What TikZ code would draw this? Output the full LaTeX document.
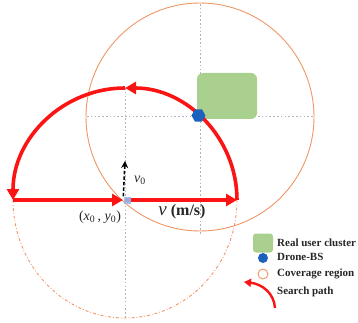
\documentclass[tikz,border=0pt]{standalone}
\usepackage{fontspec}
\setmainfont{Liberation Serif}
\usetikzlibrary{arrows.meta,shapes.geometric,calc}
\definecolor{redp}{RGB}{250,20,20}
\definecolor{orangec}{RGB}{238,150,100}
\definecolor{greenc}{RGB}{169,208,142}
\definecolor{bluec}{RGB}{28,98,188}
\definecolor{lightb}{RGB}{150,185,235}
\definecolor{gridc}{RGB}{175,178,190}
\tikzset{
  gridline/.style={draw=gridc, line width=0.7pt, dash pattern=on 1.6pt off 2.2pt},
  coverage/.style={draw=orangec, line width=0.9pt},
  redpath/.style={draw=redp, line width=3.6pt, -{Triangle[length=11pt,width=12pt]}},
  legtext/.style={anchor=west, font=\fontsize{11}{12}\selectfont\bfseries, inner sep=0pt, text=black!85},
}
\begin{document}
\begin{tikzpicture}[x=1pt,y=-1pt]
\useasboundingbox (0,0) rectangle (358,323);
% key points
\coordinate (O) at (125,200);
\coordinate (R) at (237,200);
\coordinate (L) at (13,200);
\coordinate (T) at (125,88);
\coordinate (B) at (125,318);
\coordinate (D) at ($(O)+(-49:112)$);
\coordinate (V) at (125,161);
% grid lines
\draw[gridline] (T) -- (B);
\draw[gridline] (200,4) -- (200,235);
\draw[gridline] (87,116) -- (314,116);
% coverage circle
\draw[coverage] (200,117) circle[radius=114];
% bottom dash-dot half circle
\draw[draw=orangec, line width=0.9pt, dash pattern=on 3pt off 2pt on 0.8pt off 2pt]
  (L) arc[start angle=180, end angle=0, x radius=112, y radius=118];
% user cluster
\node[fill=greenc, rounded corners=6pt, minimum width=60pt, minimum height=46pt, inner sep=0pt] (cluster) at (227,96) {};
% red search path
\draw[redpath] (L) -- ([xshift=-2pt]O);
\draw[redpath] (O) -- (R);
\draw[redpath] (R) arc[start angle=0, end angle=-90, radius=112];
\draw[redpath] (T) arc[start angle=-90, end angle=-180, radius=112];
% drone
\node[regular polygon, regular polygon sides=6, fill=bluec, minimum size=14pt, inner sep=0pt] (drone) at (D) {};
% origin marker
\node[fill=lightb, minimum size=7pt, inner sep=0pt, opacity=0.9] (orig) at ([xshift=2pt]O) {};
% v0 arrow
\draw[black, line width=1.6pt, dash pattern=on 3.5pt off 2pt, -{Stealth[length=7pt,width=7pt]}] (orig.north west) -- (V);
\node[font=\fontsize{14}{14}\selectfont\itshape, inner sep=0pt, text=black!85] (v0) at (140,180) {v\textsubscript{\upshape 0}};
% labels
\node[font=\fontsize{14}{14}\selectfont, inner sep=0pt, text=black!85] (xy) at (100,217) {(\textit{x}\textsubscript{0}\,, \textit{y}\textsubscript{0})};
\node[font=\fontsize{16}{16}\selectfont, inner sep=0pt, text=black!85] (vel) at (182,212) {{\fontsize{19}{19}\selectfont\textit{v}} \textbf{(m/s)}};
% legend
\node[fill=greenc, rounded corners=3pt, minimum width=20pt, minimum height=19pt, inner sep=0pt] (lg1) at (263,243) {};
\node[legtext] (lt1) at (277,243) {Real user cluster};
\node[circle, fill=bluec, minimum size=10pt, inner sep=0pt] (lg2) at (263,258) {};
\node[legtext] (lt2) at (277,257) {Drone-BS};
\node[circle, draw=orangec, line width=0.9pt, minimum size=10pt, inner sep=0pt] (lg3) at (263,274) {};
\node[legtext] (lt3) at (277,274) {Coverage region};
\coordinate (la) at (275,308);
\coordinate (lb) at (244,282);
\draw[draw=redp, line width=2.4pt, -{Triangle[length=7pt,width=8pt]}] (la) .. controls (274,293) and (262,284) .. (lb);
\node[legtext] (lt4) at (277,292) {Search path};
\end{tikzpicture}
\end{document}
